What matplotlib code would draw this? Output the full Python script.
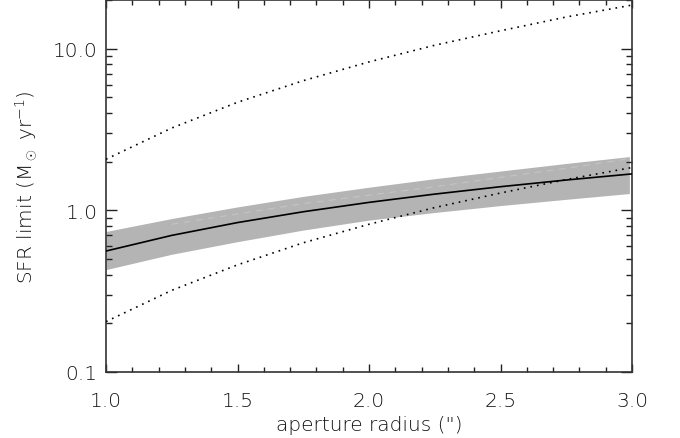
import numpy as np
import matplotlib
matplotlib.use("Agg")
import matplotlib.pyplot as plt
from matplotlib.ticker import FixedLocator, NullFormatter, LogLocator

# ---- data ----
radius = [1.0, 1.25, 1.5, 1.75, 2.0, 2.25, 2.5, 2.75, 3.0]
sfr_mid = [0.56, 0.70, 0.84, 0.98, 1.12, 1.26, 1.40, 1.54, 1.68]
sfr_upper = [2.07, 3.23, 4.66, 6.34, 8.28, 10.5, 12.9, 15.7, 18.6]
sfr_lower = [0.205, 0.32, 0.46, 0.63, 0.82, 1.04, 1.28, 1.55, 1.84]

band_radius = [1.0, 1.25, 1.5, 1.75, 2.0, 2.25, 2.5, 2.75, 2.99]
band_top = [0.74, 0.89, 1.05, 1.22, 1.39, 1.57, 1.75, 1.95, 2.15]
band_bottom = [0.43, 0.535, 0.64, 0.755, 0.87, 0.97, 1.07, 1.17, 1.27]

faint_radius = [1.25, 1.5, 1.75, 2.0, 2.25, 2.5, 2.75, 3.0]
faint_vals = [0.82, 0.95, 1.10, 1.24, 1.40, 1.60, 1.82, 2.10]

xticks = [1.0, 1.5, 2.0, 2.5, 3.0]
xtick_labels = ["1.0", "1.5", "2.0", "2.5", "3.0"]
yticks = [0.1, 1.0, 10.0]
ytick_labels = ["0.1", "1.0", "10.0"]

plt.rcParams['font.family'] = ['DejaVu Sans']
plt.rcParams['font.weight'] = 200
plt.rcParams['axes.labelweight'] = 200
plt.rcParams['mathtext.fontset'] = 'custom'
plt.rcParams['mathtext.rm'] = 'DejaVu Sans:weight=200'
plt.rcParams['mathtext.it'] = 'DejaVu Sans:weight=200'

# ---- figure ----
fig = plt.figure(figsize=(6.8, 4.39), dpi=100)
ax = fig.add_axes([106/680, 66/439, 526/680, 372/439])

txt = "#111111"
ax.fill_between(band_radius, band_bottom, band_top, color="#b4b4b4", lw=0, zorder=1)
ax.plot(faint_radius, faint_vals, color="#c4c4c4", lw=0.8, ls=(0, (6, 5)), zorder=2)
ax.plot(radius, sfr_mid, color="black", lw=1.2, zorder=3)
ax.plot(radius, sfr_upper, color="black", lw=1.2, ls=(0, (1, 3)), zorder=3)
ax.plot(radius, sfr_lower, color="black", lw=1.2, ls=(0, (1, 3)), zorder=3)

ax.set_yscale("log")
ax.set_xlim(1.0, 3.0)
ax.set_ylim(0.1, 20.0)

ax.xaxis.set_major_locator(FixedLocator(xticks))
ax.set_xticklabels(xtick_labels)
ax.xaxis.set_minor_locator(FixedLocator(np.arange(1.0, 3.0001, 0.1)))
ax.yaxis.set_major_locator(FixedLocator(yticks))
ax.set_yticklabels(ytick_labels)
ax.yaxis.set_minor_locator(LogLocator(base=10, subs=np.arange(2, 10)))
ax.yaxis.set_minor_formatter(NullFormatter())

for s in ax.spines.values():
    s.set_color("#333333")
    s.set_linewidth(1.2)

ax.tick_params(which="both", direction="in", top=True, right=True,
               color="#222222", width=1.0, labelcolor=txt, labelsize=14.5)
ax.tick_params(axis="y", which="major", length=8, pad=6)
ax.tick_params(axis="y", which="minor", length=4.5)
ax.tick_params(axis="x", which="major", length=6, pad=14)
ax.tick_params(axis="x", which="minor", length=3.5)

ax.set_xlabel('aperture radius (")', fontsize=14.5, color=txt, labelpad=3, fontweight=200)
ax.set_ylabel(r'SFR limit (M$_\odot$ yr$^{-1}$)', fontsize=14.5, color=txt, labelpad=10, fontweight=200)

fig.savefig("out.png", dpi=100)
